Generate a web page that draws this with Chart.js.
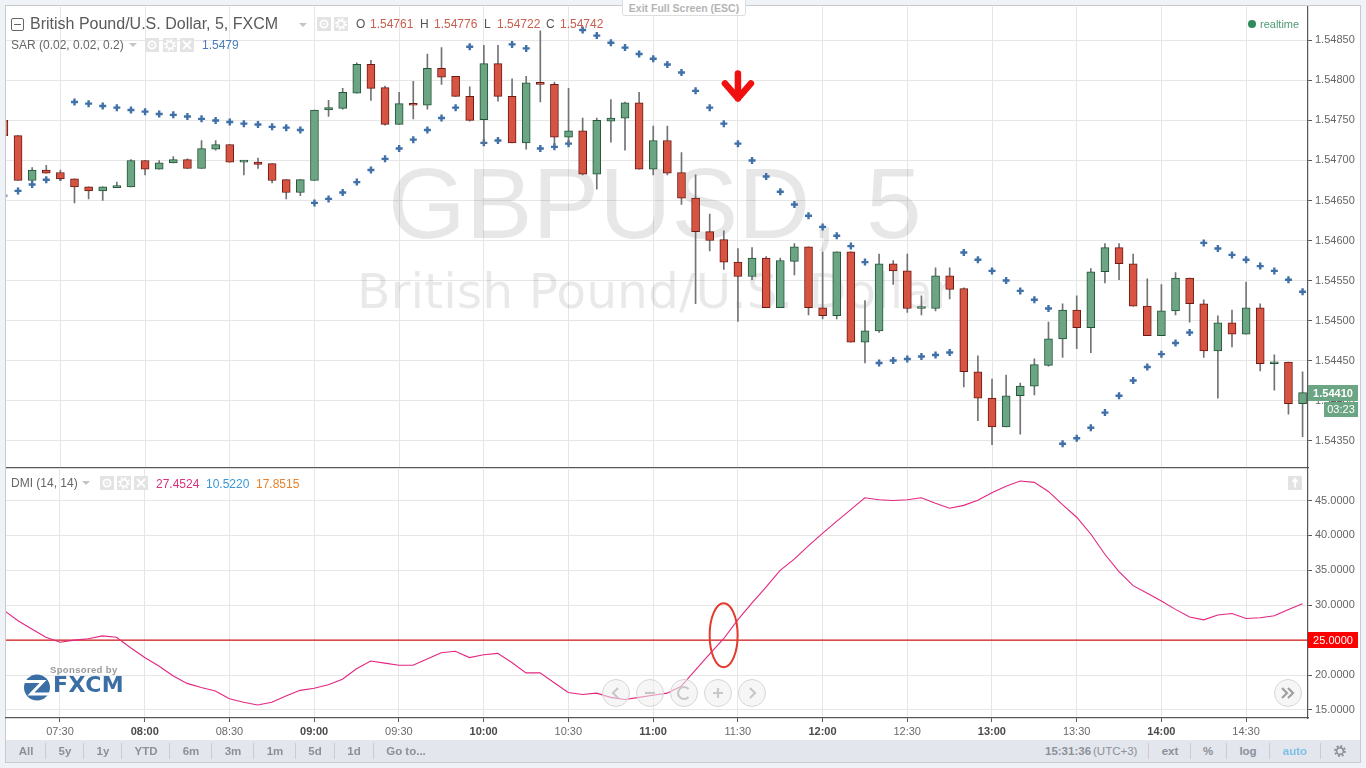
<!DOCTYPE html>
<html>
<head>
<meta charset="utf-8">
<title>GBPUSD 5</title>
<script src="https://cdn.jsdelivr.net/npm/chart.js@4"></script>
<style>
html,body{margin:0;padding:0;width:1366px;height:768px;overflow:hidden;background:#eff2f6;font-family:"Liberation Sans",Arial,sans-serif;}
#frame{position:absolute;left:5px;top:5px;width:1354px;height:756px;border:1.5px solid #c8cace;background:#fff;}
canvas{position:absolute;left:0;}
#toolbar{position:absolute;left:6px;top:740px;width:1354px;height:22px;background:#e3e6ec;}
.t{position:absolute;white-space:nowrap;line-height:1;}
.sep{position:absolute;width:1px;background:#c9ccd2;top:743px;height:16px;}
.ic{position:absolute;width:14px;height:14px;background:#e3e3e3;}
.ic svg{display:block;}
.caret{position:absolute;width:0;height:0;border-left:4px solid transparent;border-right:4px solid transparent;border-top:4px solid #c4c4c4;}
.nav{position:absolute;width:26px;height:26px;border-radius:50%;border:1px solid #d6d6d6;background:rgba(238,238,238,.55);}
.nav svg{display:block;}
</style>
</head>
<body>
<div id="frame"></div>
<div id="toolbar"></div>
<canvas id="price" width="1366" height="474" style="top:0"></canvas>
<canvas id="dmi" width="1366" height="273" style="top:467px"></canvas>
<div id="over"></div>
<script>
// ---------- data ----------
const firstBarIndex = -4;
const xTickIndex = [0,6,12,18,24,30,36,42,48,54,60,66,72,78,84];
const xTickLabels = ["07:30","08:00","08:30","09:00","09:30","10:00","10:30","11:00","11:30","12:00","12:30","13:00","13:30","14:00","14:30"];
const priceTicks = [1.5435,1.544,1.5445,1.545,1.5455,1.546,1.5465,1.547,1.5475,1.548,1.5485];
const dmiTicks = [15,20,25,30,35,40,45];

const opens = [1.54750,1.54731,1.54675,1.54688,1.54685,1.54677,1.54667,1.54662,1.54666,1.54667,1.54700,1.54689,1.54697,1.54701,1.54690,1.54714,1.54720,1.54698,1.54698,1.54696,1.54676,1.54660,1.54675,1.54763,1.54765,1.54784,1.54820,1.54791,1.54745,1.54771,1.54769,1.54815,1.54805,1.54780,1.54751,1.54821,1.54780,1.54722,1.54797,1.54795,1.54729,1.54737,1.54683,1.54749,1.54753,1.54772,1.54689,1.54725,1.54685,1.54653,1.54611,1.54601,1.54573,1.54555,1.54578,1.54516,1.54574,1.54592,1.54516,1.54506,1.54586,1.54473,1.54487,1.54571,1.54562,1.54515,1.54515,1.54556,1.54540,1.54436,1.54403,1.54367,1.54406,1.54418,1.54444,1.54477,1.54513,1.54491,1.54561,1.54591,1.54571,1.54518,1.54481,1.54512,1.54553,1.54521,1.54462,1.54497,1.54483,1.54516,1.54446,1.54448,1.54396];
const highs = [1.54750,1.54731,1.54691,1.54694,1.54688,1.54677,1.54667,1.54667,1.54673,1.54701,1.54700,1.54700,1.54705,1.54702,1.54725,1.54725,1.54720,1.54700,1.54703,1.54696,1.54676,1.54676,1.54763,1.54775,1.54790,1.54822,1.54825,1.54793,1.54785,1.54799,1.54833,1.54841,1.54805,1.54792,1.54844,1.54844,1.54802,1.54805,1.54862,1.54798,1.54790,1.54753,1.54753,1.54776,1.54773,1.54785,1.54743,1.54743,1.54710,1.54682,1.54633,1.54612,1.54590,1.54591,1.54580,1.54578,1.54596,1.54592,1.54586,1.54586,1.54586,1.54525,1.54583,1.54575,1.54583,1.54531,1.54566,1.54566,1.54541,1.54456,1.54427,1.54432,1.54422,1.54452,1.54498,1.54521,1.54531,1.54565,1.54596,1.54596,1.54583,1.54552,1.54545,1.54560,1.54553,1.54526,1.54506,1.54513,1.54548,1.54521,1.54457,1.54448,1.54436];
const lows = [1.54731,1.54675,1.54675,1.54684,1.54675,1.54647,1.54652,1.54650,1.54666,1.54667,1.54682,1.54689,1.54697,1.54690,1.54690,1.54713,1.54698,1.54682,1.54690,1.54672,1.54652,1.54656,1.54675,1.54755,1.54764,1.54784,1.54775,1.54744,1.54745,1.54752,1.54764,1.54795,1.54780,1.54749,1.54721,1.54774,1.54722,1.54714,1.54773,1.54719,1.54721,1.54682,1.54664,1.54723,1.54713,1.54689,1.54682,1.54682,1.54645,1.54521,1.54587,1.54564,1.54499,1.54551,1.54516,1.54516,1.54557,1.54507,1.54502,1.54502,1.54473,1.54447,1.54485,1.54545,1.54510,1.54507,1.54512,1.54527,1.54417,1.54375,1.54345,1.54367,1.54358,1.54407,1.54443,1.54454,1.54465,1.54460,1.54547,1.54551,1.54518,1.54481,1.54481,1.54507,1.54498,1.54454,1.54403,1.54467,1.54483,1.54437,1.54413,1.54383,1.54355];
const closes = [1.54731,1.54675,1.54688,1.54684,1.54677,1.54667,1.54662,1.54667,1.54667,1.54700,1.54689,1.54697,1.54701,1.54690,1.54715,1.54720,1.54698,1.54699,1.54695,1.54675,1.54660,1.54676,1.54763,1.54766,1.54785,1.54820,1.54790,1.54745,1.54771,1.54769,1.54815,1.54804,1.54780,1.54750,1.54821,1.54780,1.54722,1.54797,1.54795,1.54729,1.54737,1.54683,1.54750,1.54753,1.54772,1.54689,1.54725,1.54684,1.54653,1.54611,1.54600,1.54573,1.54555,1.54578,1.54516,1.54575,1.54592,1.54516,1.54506,1.54586,1.54473,1.54487,1.54571,1.54562,1.54515,1.54516,1.54556,1.54539,1.54436,1.54403,1.54367,1.54406,1.54418,1.54445,1.54477,1.54513,1.54491,1.54561,1.54591,1.54571,1.54518,1.54481,1.54512,1.54553,1.54521,1.54462,1.54497,1.54483,1.54516,1.54446,1.54448,1.54396,1.54410];
const sar = [1.54656,1.54662,1.54670,1.54676,1.54679,1.54773,1.54771,1.54768,1.54766,1.54763,1.54761,1.54758,1.54757,1.54755,1.54752,1.54750,1.54748,1.54746,1.54745,1.54742,1.54741,1.54738,1.54647,1.54652,1.54660,1.54673,1.54688,1.54702,1.54715,1.54726,1.54738,1.54753,1.54766,1.54842,1.54722,1.54725,1.54845,1.54840,1.54715,1.54717,1.54721,1.54863,1.54856,1.54847,1.54841,1.54833,1.54827,1.54820,1.54810,1.54787,1.54766,1.54746,1.54721,1.54700,1.54680,1.54661,1.54645,1.54631,1.54617,1.54606,1.54593,1.54573,1.54447,1.54450,1.54452,1.54455,1.54457,1.54460,1.54585,1.54576,1.54562,1.54550,1.54537,1.54526,1.54515,1.54346,1.54353,1.54366,1.54385,1.54406,1.54425,1.54442,1.54458,1.54472,1.54485,1.54597,1.54590,1.54582,1.54576,1.54568,1.54562,1.54551,1.54536];
const dmi = [29.3,27.8,26.6,25.4,24.7,25.0,25.2,25.6,25.4,23.9,22.5,21.3,19.9,18.8,18.2,17.7,16.6,16.1,15.7,16.1,17.0,17.8,18.1,18.6,19.4,20.9,22.0,21.7,21.4,21.4,22.3,23.2,23.4,22.5,22.9,23.1,21.8,20.3,20.3,18.9,17.5,17.2,17.4,16.8,16.5,16.8,17.1,17.4,18.4,20.7,23.0,25.2,27.9,30.3,32.6,35.0,36.6,38.5,40.3,42.0,43.7,45.4,45.1,45.0,45.1,45.4,44.6,43.9,44.3,45.05,46.1,47.05,47.8,47.6,46.3,44.4,42.6,40.2,37.3,34.8,32.8,31.7,30.6,29.4,28.3,27.9,28.6,28.8,28.1,28.2,28.5,29.4,30.2];
const dmiThreshold = 25;
const dmiLineEnds = [-4,89];
const lastPriceLabel = "1.54410";
const countdownLabel = "03:23";
const thresholdLabel = "25.0000";
const rangeButtons = ["All","5y","1y","YTD","6m","3m","1m","5d","1d","Go to..."];

// ---------- styles ----------
const UP="#6ba583",DOWN="#d75442",UPB="#225437",DOWNB="#6b1a14",WICK="#737375";
const GRID="#e6e6e6",AXIS="#55575a",TICK="#666";
const FONT='"Liberation Sans",Arial,sans-serif';
const xIdx = i => i + firstBarIndex;
const isUp = opens.map((o,i)=>closes[i]>=o);
const xMin=-3.824,xMax=88.385;
const fitBox = (w,h)=>(s)=>{if(w!==null)s.width=w;if(h!==null)s.height=h;s.paddingTop=0;s.paddingBottom=0;s.paddingLeft=0;s.paddingRight=0;};
const useTicks = (arr)=>(s)=>{s.ticks=arr.map(v=>({value:v}));};

const watermark={id:'watermark',beforeDatasetsDraw(c){
  const g=c.ctx;g.save();g.fillStyle='rgba(0,0,0,.095)';g.textAlign='left';g.textBaseline='alphabetic';
  g.font='100px '+FONT;g.fillText('GBPUSD, 5',388,238);
  g.fillStyle='rgba(0,0,0,.085)';g.font='48.8px "DejaVu Sans"';g.fillText('British Pound/U.S. Dollar',357,308);
  g.restore();}};

const priceOverlay={id:'priceOverlay',afterDraw(c){
  const g=c.ctx,ys=c.scales.y,xs=c.scales.x;g.save();
  // red arrow
  const ax=xs.getPixelForValue(48),ay=ys.getPixelForValue(1.5479);
  g.strokeStyle='#f01010';g.lineWidth=6.5;g.lineCap='round';g.lineJoin='round';
  g.beginPath();g.moveTo(ax,ay-15);g.lineTo(ax,ay+10);g.moveTo(ax-13,ay-5);g.lineTo(ax,ay+10);g.lineTo(ax+13,ay-5);g.stroke();
  // last price badges
  const py=Math.round(ys.getPixelForValue(closes[closes.length-1]));
  g.fillStyle=UP;g.fillRect(1308,py-8,50,16);g.fillRect(1324,py+9,34,15);
  g.fillStyle='#fff';g.font='bold 11px '+FONT;g.textAlign='center';g.textBaseline='middle';
  g.fillText(lastPriceLabel,1333,py+0.5);
  g.font='11px '+FONT;g.fillText(countdownLabel,1341,py+17);
  g.restore();}};

const dmiOverlay={id:'dmiOverlay',afterDraw(c){
  const g=c.ctx,ys=c.scales.y,xs=c.scales.x;g.save();
  g.strokeStyle='#e23a2c';g.lineWidth=2;
  g.beginPath();g.ellipse(xs.getPixelForValue(47),ys.getPixelForValue(25.7),14,32,0,0,Math.PI*2);g.stroke();
  const py=Math.round(ys.getPixelForValue(dmiThreshold));
  g.fillStyle='#ff0000';g.fillRect(1308,py-8,50,16);
  g.fillStyle='#fff';g.font='11px '+FONT;g.textAlign='center';g.textBaseline='middle';
  g.fillText(thresholdLabel,1333,py+0.5);
  g.restore();}};

const xScale=(showLabels)=>({
  type:'linear',min:xMin,max:xMax,offset:false,
  afterBuildTicks:useTicks(xTickIndex),
  afterFit:fitBox(null,showLabels?22:0),
  grid:{offset:false,color:GRID,lineWidth:1,drawTicks:showLabels,tickLength:4,tickColor:AXIS},
  border:{color:AXIS,width:1.2},
  ticks:{display:showLabels,autoSkip:false,maxRotation:0,minRotation:0,padding:3,
    color:(ctx)=>xTickLabels[ctx.index].endsWith(':00')?'#4a4a4a':'#6a6a6a',
    font:(ctx)=>({family:FONT,size:11,weight:xTickLabels[ctx.index]&&xTickLabels[ctx.index].endsWith(':00')?'bold':'normal'}),
    callback:(v,i)=>xTickLabels[i]}
});
const yScale=(min,max,ticks,digits)=>({
  position:'right',min,max,
  afterBuildTicks:useTicks(ticks),
  afterFit:fitBox(58,null),
  grid:{color:GRID,lineWidth:1,tickLength:4,tickColor:AXIS},
  border:{color:AXIS,width:1.2},
  ticks:{autoSkip:false,color:TICK,padding:3,font:{family:FONT,size:11},callback:(v)=>Number(v).toFixed(digits)}
});

new Chart(document.getElementById('price'),{
  type:'bar',
  data:{datasets:[
    {label:'body',order:1,barThickness:8,grouped:false,minBarLength:2,borderWidth:1,borderSkipped:false,
     data:opens.map((o,i)=>({x:xIdx(i),y:[Math.min(o,closes[i]),Math.max(o,closes[i])]})),
     backgroundColor:isUp.map(u=>u?UP:DOWN),borderColor:isUp.map(u=>u?UPB:DOWNB)},
    {label:'wick',order:2,barThickness:1,grouped:false,borderWidth:0,
     data:highs.map((h,i)=>({x:xIdx(i),y:[lows[i],h]})),backgroundColor:WICK},
    {type:'line',label:'SAR',order:3,showLine:false,pointStyle:'cross',pointRadius:3.5,pointBorderWidth:2.4,
     pointBorderColor:'#3f70a8',pointBackgroundColor:'#3f70a8',
     data:sar.map((v,i)=>({x:xIdx(i),y:v}))}
  ]},
  options:{responsive:false,animation:false,events:[],
    layout:{padding:{left:6,top:6,right:0,bottom:1}},
    datasets:{bar:{grouped:false}},
    plugins:{legend:{display:false},tooltip:{enabled:false}},
    scales:{x:xScale(false),y:yScale(1.5431625,1.548925,priceTicks,5)}},
  plugins:[watermark,priceOverlay]
});

new Chart(document.getElementById('dmi'),{
  type:'line',
  data:{datasets:[
    {label:'ADX',order:1,data:dmi.map((v,i)=>({x:xIdx(i),y:v})),borderColor:'#e3267f',borderWidth:1.1,pointRadius:0,tension:0},
    {label:'level',order:2,data:dmiLineEnds.map(x=>({x,y:dmiThreshold})),borderColor:'#d41818',borderWidth:1.2,pointRadius:0}
  ]},
  options:{responsive:false,animation:false,events:[],
    layout:{padding:{left:6,top:1,right:0,bottom:0}},
    plugins:{legend:{display:false},tooltip:{enabled:false}},
    scales:{x:xScale(true),y:yScale(13.84,49.656,dmiTicks,4)}},
  plugins:[dmiOverlay]
});

// ---------- page furniture (legends, toolbar, buttons) ----------
const over=document.getElementById('over');
function T(text,x,y,size,color,opt){opt=opt||{};const s=document.createElement('span');s.className='t';s.textContent=text;
  s.style.left=x+'px';s.style.top=y+'px';s.style.fontSize=size+'px';s.style.color=color;
  s.style.transform=opt.center?'translate(-50%,-50%)':'translateY(-50%)';
  if(opt.bold)s.style.fontWeight='bold';if(opt.extra)s.style.cssText+=opt.extra;over.appendChild(s);return s;}
function box(cls,x,y,html,w,h){const d=document.createElement('div');d.className=cls;d.style.left=x+'px';d.style.top=y+'px';if(html)d.innerHTML=html;if(w)d.style.width=w+'px';if(h)d.style.height=h+'px';over.appendChild(d);return d;}
const eye='<svg width="14" height="14"><circle cx="7" cy="7" r="3.6" fill="none" stroke="#fff" stroke-width="1.8"/><circle cx="7" cy="7" r="1" fill="#fff"/></svg>';
const gear=(c,w)=>`<svg width="14" height="14"><circle cx="7" cy="7" r="3.4" fill="none" stroke="${c}" stroke-width="1.6"/><circle cx="7" cy="7" r="5" fill="none" stroke="${c}" stroke-width="1.8" stroke-dasharray="1.9 2"/></svg>`;
const cross='<svg width="14" height="14"><path d="M3 3L11 11M11 3L3 11" stroke="#fff" stroke-width="1.8"/></svg>';
const up='<svg width="14" height="14"><path d="M7 3V11.5M4.5 6L7 3L9.5 6" stroke="#fff" stroke-width="1.8" fill="none"/></svg>';

// title row
box('t',11,18,'',13,13).style.cssText+='border:1px solid #666;border-radius:2px;box-sizing:border-box;';
box('t',14,24,'',7,1).style.background='#666';
T('British Pound/U.S. Dollar, 5, FXCM',30,24,16,'#5a5a5a');
box('caret',299,23);
box('ic',317,17,eye);box('ic',334,17,gear('#fff'));
T('O',356,24,12,'#555');T('1.54761',370,24,12,'#c8604f');
T('H',420,24,12,'#555');T('1.54776',434,24,12,'#c8604f');
T('L',484,24,12,'#555');T('1.54722',497,24,12,'#c8604f');
T('C',546,24,12,'#555');T('1.54742',560,24,12,'#c8604f');
// SAR row
T('SAR (0.02, 0.02, 0.2)',11,45,12,'#666');
box('caret',129,43);
box('ic',145,38,eye);box('ic',163,38,gear('#fff'));box('ic',180,38,cross);
T('1.5479',202,45,12,'#4a7db5');
// DMI row
T('DMI (14, 14)',11,483,12,'#666');
box('caret',82,481);
box('ic',100,476,eye);box('ic',117,476,gear('#fff'));box('ic',134,476,cross);
T('27.4524',156,483.5,12,'#d8337f');T('10.5220',206,483.5,12,'#3a98d8');T('17.8515',256,483.5,12,'#e8822e');
box('ic',1288,476,up);
// realtime
const dot=box('t',1248,20,'',8,8);dot.style.cssText+='border-radius:50%;background:#2f8a5c;';
T('realtime',1260,23.5,11,'#4d9a74');
// exit full screen
const ex=box('t',622,-3,'',124,19);ex.style.cssText+='background:#fff;border:1px solid #ddd;border-radius:3px;box-sizing:border-box;';
T('Exit Full Screen (ESC)',684,8,10.5,'#b4b4b4',{center:true,bold:true});
// sponsor logo
T('Sponsored by',50,670,9.5,'#9a9a9a',{bold:true,extra:'letter-spacing:.35px;'});
const logo=box('t',24,674,'<svg width="26" height="27"><circle cx="13" cy="13.5" r="13" fill="#3a6ea5"/><path d="M0 7.5H19L7 20H26" fill="none" stroke="#fff" stroke-width="3"/></svg>');
T('FXCM',53,685,22,'#3a6ea5',{bold:true,extra:'font-family:\"DejaVu Sans\";letter-spacing:.5px;'});
// nav buttons
const glyph={l:'<path d="M15 8L10 13L15 18" stroke="#c8c8c8" stroke-width="2.2" fill="none"/>',
 m:'<path d="M8 13H18" stroke="#c8c8c8" stroke-width="2.2"/>',
 r:'<path d="M17.5 9A6 6 0 1 0 17.5 17" stroke="#c8c8c8" stroke-width="2.2" fill="none"/>',
 p:'<path d="M8 13H18M13 8V18" stroke="#c8c8c8" stroke-width="2.2"/>',
 n:'<path d="M11 8L16 13L11 18" stroke="#c8c8c8" stroke-width="2.2" fill="none"/>',
 d:'<path d="M7 8L12 13L7 18M13 8L18 13L13 18" stroke="#a0a0a0" stroke-width="2.2" fill="none"/>'};
[[602,'l'],[636,'m'],[670,'r'],[704,'p'],[738,'n'],[1274,'d']].forEach(([x,k])=>{
  box('nav',x,679,`<svg width="26" height="26">${glyph[k]}</svg>`);});
// toolbar
const rangeX=[26,65,103,146,191,233,275,315,354,406];
rangeButtons.forEach((b,i)=>T(b,rangeX[i],751.5,11.5,'#8b9099',{center:true,bold:true}));
[45,83,121,169,211,253,295,334,373,1148,1190,1226,1269,1320].forEach(x=>box('sep',x,743));
T('15:31:36',1045,751.5,11.5,'#8b9099',{bold:true});T('(UTC+3)',1093,751.5,11.5,'#8b9099');
T('ext',1170,751.5,11.5,'#8b9099',{center:true,bold:true});
T('%',1208,751.5,11.5,'#8b9099',{center:true,bold:true});
T('log',1248,751.5,11.5,'#8b9099',{center:true,bold:true});
T('auto',1295,751.5,11.5,'#7dc0e8',{center:true,bold:true});
const g2=box('t',1333,744,gear('#8b9099'));
</script>
</body>
</html>
